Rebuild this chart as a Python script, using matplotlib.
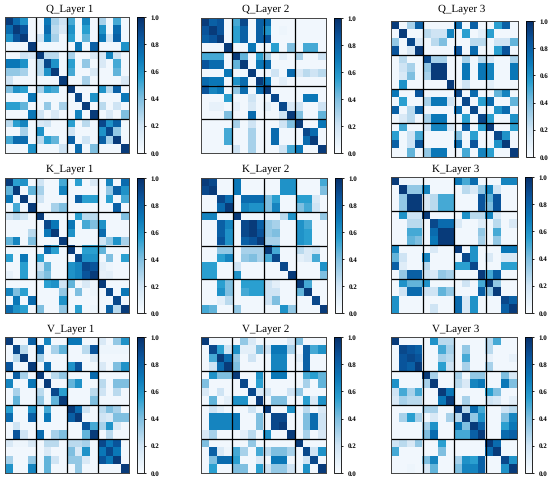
import numpy as np
import matplotlib
matplotlib.use('Agg')
import matplotlib.pyplot as plt
from matplotlib.colors import LinearSegmentedColormap

plt.rcParams['font.family'] = ['Liberation Serif', 'DejaVu Serif']
plt.rcParams['text.hinting'] = 'no_hinting'
plt.rcParams['text.hinting_factor'] = 1

q_layer1 = [
    [95,75,60,3, 3,70,30,20, 50,3,65,3, 30,3,50,3],
    [75,95,85,3, 3,75,25,15, 60,3,55,3, 60,3,75,3],
    [60,85,95,3, 20,65,30,3, 55,3,45,3, 70,20,80,3],
    [3,3,3,95, 3,3,3,3, 3,70,3,80, 3,3,3,60],
    [3,3,20,15, 95,25,25,3, 30,3,3,15, 15,65,20,3],
    [70,70,60,3, 25,90,60,3, 55,3,35,3, 15,3,50,3],
    [35,35,30,3, 25,60,95,3, 50,3,3,15, 3,3,45,3],
    [20,3,3,3, 3,3,3,95, 3,3,30,3, 3,3,3,15],
    [40,60,55,3, 30,55,50,3, 95,3,3,3, 60,25,80,3],
    [3,3,3,70, 3,3,3,3, 3,90,3,60, 3,3,3,70],
    [55,55,45,3, 3,35,3,30, 3,3,95,3, 25,3,20,3],
    [3,3,3,70, 20,3,15,3, 3,65,3,95, 3,15,3,40],
    [25,55,65,3, 15,20,3,3, 55,3,25,3, 90,60,80,3],
    [3,3,30,3, 60,3,3,3, 20,3,3,3, 60,90,35,3],
    [50,75,75,3, 25,55,45,3, 80,3,20,3, 80,30,95,3],
    [3,3,3,60, 3,3,3,20, 3,75,3,40, 3,3,3,95],
]
q_layer2 = [
    [95,80,85,3, 50,90,3,80, 75,3,3,3, 3,3,3,3],
    [85,95,85,3, 55,80,3,80, 60,3,5,3, 3,3,3,3],
    [80,85,95,3, 55,80,3,80, 85,3,3,3, 3,3,3,3],
    [3,3,3,95, 3,3,70,3, 3,55,3,40, 3,50,50,3],
    [50,50,50,3, 95,45,3,55, 30,3,10,3, 30,3,3,20],
    [85,75,75,3, 45,95,3,70, 75,3,3,3, 3,3,3,3],
    [3,3,3,70, 3,3,95,3, 3,20,3,75, 15,25,20,25],
    [75,70,70,3, 60,75,3,95, 70,3,10,3, 3,3,3,3],
    [85,65,70,3, 35,75,3,75, 95,3,3,3, 3,3,3,3],
    [3,3,3,55, 3,3,20,3, 3,90,3,3, 3,70,70,3],
    [3,8,8,3, 8,3,15,3, 10,3,90,15, 20,3,3,20],
    [3,3,3,40, 3,3,75,3, 3,3,20,95, 40,3,3,45],
    [3,3,3,3, 30,3,20,3, 3,3,20,40, 95,3,3,70],
    [3,3,3,50, 3,3,30,3, 3,75,3,3, 3,90,75,3],
    [3,3,3,50, 3,3,30,3, 3,75,3,3, 3,75,95,3],
    [3,3,3,3, 20,3,30,3, 3,3,20,50, 70,3,3,95],
]
q_layer3 = [
    [95,3,30,80, 3,3,3,3, 75,3,80,3, 3,55,80,3],
    [3,95,3,3, 25,20,20,65, 3,55,3,10, 55,3,3,3],
    [35,3,90,15, 3,25,40,3, 3,3,25,25, 3,20,20,45],
    [85,3,15,95, 3,3,3,3, 85,3,75,3, 3,55,85,3],
    [3,25,3,3, 90,30,30,3, 3,30,3,25, 15,3,3,30],
    [3,20,30,3, 35,95,95,3, 3,70,3,70, 65,3,3,70],
    [3,15,40,3, 30,95,95,3, 3,70,3,70, 65,3,3,70],
    [3,60,3,3, 3,3,3,95, 3,20,3,3, 10,3,3,3],
    [70,3,3,85, 3,3,3,3, 90,3,75,3, 3,45,65,3],
    [3,55,3,3, 30,70,70,20, 3,90,3,55, 75,3,3,45],
    [80,3,25,80, 3,3,3,3, 75,3,90,3, 3,60,75,3],
    [3,15,25,3, 30,70,70,3, 3,55,3,90, 55,3,3,60],
    [3,50,3,3, 20,65,65,15, 3,80,3,55, 95,3,3,55],
    [55,3,20,50, 3,3,3,3, 40,3,55,3, 3,90,60,3],
    [80,3,20,85, 3,3,3,3, 75,3,85,3, 3,60,95,3],
    [3,3,45,3, 35,70,70,3, 3,50,3,65, 55,3,3,95],
]
k_layer1 = [
    [95,55,60,3, 20,3,3,50, 3,55,3,15, 3,65,3,75],
    [45,95,3,45, 30,3,3,65, 3,3,3,3, 3,35,80,60],
    [70,3,95,3, 20,3,3,3, 3,80,55,55, 3,55,3,50],
    [3,50,3,95, 3,3,30,40, 3,3,3,3, 3,3,80,3],
    [20,25,20,3, 95,3,3,3, 3,55,25,25, 3,3,3,40],
    [3,3,3,3, 3,90,70,3, 70,3,50,40, 60,3,3,3],
    [3,3,3,25, 3,70,95,3, 60,3,3,3, 75,3,3,3],
    [45,65,3,40, 3,3,3,95, 3,3,3,3, 20,35,60,30],
    [3,3,3,3, 3,75,55,3, 95,3,55,55, 45,3,3,3],
    [55,3,70,3, 55,3,3,3, 3,90,60,60, 3,40,3,55],
    [3,3,55,3, 20,45,3,3, 60,65,90,85, 10,5,3,3],
    [8,3,55,3, 30,40,3,3, 60,65,85,95, 8,10,3,3],
    [3,3,3,3, 3,55,60,20, 45,3,15,5, 95,3,3,3],
    [65,40,55,3, 3,3,3,35, 3,40,3,5, 3,90,3,70],
    [3,70,3,75, 3,3,3,60, 3,3,3,3, 3,3,90,3],
    [75,60,55,3, 40,3,3,35, 3,55,3,5, 3,80,25,95],
]
k_layer2 = [
    [95,90,3,3, 70,3,3,3, 3,3,60,60, 3,3,3,50],
    [90,95,3,3, 70,3,3,3, 3,3,60,60, 3,3,3,40],
    [3,3,90,75, 3,75,75,75, 40,55,3,3, 55,55,15,3],
    [3,3,75,95, 3,65,60,60, 40,65,3,3, 40,50,20,3],
    [65,65,3,3, 95,3,3,3, 3,3,25,60, 3,3,3,35],
    [3,3,80,65, 3,90,95,80, 35,30,3,3, 60,50,3,3],
    [3,3,80,60, 3,90,95,85, 35,40,3,3, 60,55,3,3],
    [3,3,85,60, 3,80,85,95, 30,30,3,3, 60,55,3,3],
    [3,3,35,35, 3,30,30,30, 95,50,3,3, 25,15,20,3],
    [3,3,55,65, 3,35,40,30, 50,90,3,3, 10,15,50,3],
    [55,55,3,3, 20,3,3,3, 3,3,90,3, 3,3,3,60],
    [55,55,3,3, 60,3,3,3, 3,3,3,95, 3,3,3,40],
    [3,3,55,40, 3,55,55,55, 20,10,3,3, 95,50,3,3],
    [3,3,60,40, 3,50,55,55, 20,20,3,3, 45,95,3,3],
    [3,3,10,25, 3,3,3,3, 20,40,3,3, 3,3,90,3],
    [50,45,3,3, 35,3,3,3, 3,3,60,35, 3,3,3,95],
]
k_layer3 = [
    [95,5,5,5, 3,3,3,3, 70,50,75,3, 3,3,65,65],
    [3,95,35,35, 65,3,3,3, 3,25,15,35, 65,20,3,3],
    [3,35,95,95, 15,25,50,50, 3,3,3,85, 45,85,3,3],
    [3,35,95,95, 15,25,50,50, 3,3,3,85, 40,85,3,3],
    [3,60,20,20, 95,3,3,3, 3,60,25,25, 65,15,3,3],
    [3,3,25,25, 3,90,75,75, 15,3,3,12, 3,25,3,15],
    [3,3,50,50, 3,75,95,95, 3,3,3,35, 3,50,3,3],
    [3,3,45,40, 3,70,95,95, 3,3,3,30, 3,35,3,3],
    [65,3,3,3, 3,15,3,3, 95,3,60,3, 3,3,70,70],
    [45,20,3,3, 65,3,3,3, 3,90,60,3, 15,3,15,15],
    [80,12,3,3, 25,3,3,3, 55,55,90,3, 3,3,55,55],
    [3,35,80,80, 20,15,35,30, 3,3,3,95, 50,80,3,3],
    [3,60,45,45, 60,3,3,3, 3,20,3,50, 95,35,3,3],
    [3,20,75,75, 20,20,45,35, 3,3,3,80, 35,95,3,3],
    [60,3,3,3, 3,3,3,3, 75,15,60,3, 3,3,90,80],
    [60,3,3,3, 3,20,3,3, 75,15,60,3, 3,3,80,95],
]
v_layer1 = [
    [95,3,3,80, 3,65,3,3, 70,70,3,3, 15,3,35,60],
    [3,90,25,3, 80,3,30,45, 3,3,25,85, 5,5,5,5],
    [3,25,95,3, 30,3,3,3, 3,3,3,15, 3,3,3,3],
    [85,3,3,95, 3,75,3,3, 60,85,3,3, 15,3,40,60],
    [3,80,30,3, 95,3,25,35, 3,3,3,75, 3,3,3,3],
    [65,3,3,70, 3,95,3,3, 45,60,3,3, 25,3,40,40],
    [3,30,3,3, 25,3,90,55, 3,3,3,25, 20,3,25,3],
    [3,45,3,3, 35,3,45,95, 3,3,3,40, 3,3,3,3],
    [55,3,3,60, 3,50,3,3, 95,75,20,3, 25,40,30,3],
    [75,3,3,80, 3,70,3,3, 80,95,3,3, 20,15,40,40],
    [3,20,3,3, 3,3,3,3, 3,3,85,50, 30,60,15,3],
    [3,85,20,3, 75,3,30,40, 3,3,45,95, 3,25,3,3],
    [15,5,5,15, 3,25,25,3, 25,25,30,3, 90,70,85,3],
    [3,3,3,3, 3,15,3,3, 40,15,60,3, 70,90,70,3],
    [30,3,3,35, 3,45,20,3, 35,35,15,3, 85,70,95,3],
    [60,3,3,65, 3,45,3,3, 3,35,3,3, 3,3,3,95],
]
v_layer2 = [
    [95,3,3,3, 3,35,15,3, 3,3,3,15, 40,3,3,3],
    [3,90,55,20, 60,10,10,40, 20,70,70,30, 3,80,50,60],
    [3,50,95,75, 35,3,20,3, 3,65,65,3, 10,80,3,3],
    [3,20,75,95, 40,3,3,3, 3,65,65,3, 5,80,3,3],
    [3,60,40,40, 95,3,3,60, 3,70,70,3, 3,50,55,45],
    [40,3,3,3, 3,90,3,55, 3,3,3,3, 3,30,3,45],
    [15,3,20,3, 3,3,90,15, 20,3,3,20, 35,3,3,3],
    [3,45,3,10, 60,60,3,95, 3,40,40,3, 3,55,15,60],
    [3,20,10,3, 3,3,20,3, 95,3,3,60, 3,25,3,15],
    [3,65,65,65, 70,3,3,40, 3,90,90,3, 3,40,75,20],
    [3,65,65,65, 70,3,3,40, 3,90,95,3, 3,40,75,20],
    [15,30,3,3, 3,10,25,3, 60,3,3,95, 3,30,3,15],
    [40,3,3,3, 3,3,35,3, 3,3,3,3, 95,3,3,3],
    [3,80,15,5, 50,30,3,50, 25,40,40,30, 3,90,20,60],
    [3,40,75,75, 55,3,3,15, 3,70,70,3, 3,20,90,3],
    [3,55,3,3, 40,40,3,55, 20,35,35,20, 3,60,3,95],
]
v_layer3 = [
    [95,3,3,3, 3,60,25,25, 3,3,3,3, 25,50,3,3],
    [3,90,85,80, 3,3,50,30, 3,35,3,3, 25,3,3,3],
    [3,85,90,85, 3,3,30,25, 3,50,3,3, 8,3,3,8],
    [3,85,80,95, 3,3,55,20, 3,30,3,3, 30,3,3,3],
    [3,3,3,3, 95,30,3,3, 30,3,35,35, 3,3,40,15],
    [60,3,3,3, 30,95,3,3, 25,15,65,70, 3,3,70,40],
    [20,50,30,50, 3,3,95,70, 3,3,3,3, 55,40,3,3],
    [15,30,25,25, 3,3,70,95, 3,30,3,3, 20,15,3,10],
    [3,3,3,3, 30,30,3,3, 95,25,75,50, 3,3,20,25],
    [3,30,55,30, 3,15,3,30, 25,95,35,60, 3,3,40,65],
    [3,3,3,3, 30,60,3,3, 70,40,95,80, 3,3,55,70],
    [3,3,3,3, 40,75,3,3, 50,50,80,95, 3,3,75,80],
    [20,25,15,35, 3,3,55,3, 3,3,3,3, 95,75,3,3],
    [50,3,3,3, 3,3,40,3, 3,3,3,3, 75,95,3,3],
    [3,3,3,3, 40,65,3,3, 30,60,55,80, 3,3,90,60],
    [3,3,5,3, 15,45,3,3, 40,65,65,80, 3,3,60,95],
]

titles = ['Q_Layer 1', 'Q_Layer 2', 'Q_Layer 3',
          'K_Layer 1', 'K_Layer 2', 'K_Layer 3',
          'V_Layer 1', 'V_Layer 2', 'V_Layer 3']
matrices = [q_layer1, q_layer2, q_layer3,
            k_layer1, k_layer2, k_layer3,
            v_layer1, v_layer2, v_layer3]
cbar_ticks = [0.0, 0.2, 0.4, 0.6, 0.8, 1.0]

# left, top, right, bottom of each heatmap in pixels
boxes = [(5, 17, 129, 153), (201, 18, 326, 153), (391, 21, 518, 157),
         (5, 178, 129, 313), (201, 178, 327, 313), (391, 177, 517, 313),
         (5, 337, 129, 473), (201, 337, 326, 473), (391, 337, 517, 473)]
# title centres in pixels, the original ones are not centred on the panels
title_pos = [(70, 9), (266, 9), (462, 9),
             (69.5, 169.5), (266, 169.5), (456, 169.5),
             (70.5, 329), (266, 329), (456, 329)]

W, H = 550, 480
cmap = LinearSegmentedColormap.from_list('blue_white', [
    (0.0, '#f7fbff'), (0.2, '#cfe4f4'), (0.4, '#7fbfe0'), (0.55, '#2a9fd0'),
    (0.7, '#0b78b8'), (0.85, '#0a559c'), (1.0, '#08306b')])

fig = plt.figure(figsize=(W / 100, H / 100), dpi=100)

for title, matrix, (l, t, r, b), (tx, ty) in zip(titles, matrices, boxes, title_pos):
    ax = fig.add_axes([l / W, 1 - b / H, (r - l) / W, (b - t) / H])
    data = np.array(matrix) / 100
    im = ax.imshow(data, cmap=cmap, vmin=0, vmax=1, aspect='auto',
                   interpolation='nearest')
    for pos in [3.5, 7.5, 11.5]:
        ax.axvline(pos, color='black', lw=0.9)
        ax.axhline(pos, color='black', lw=0.9)
    ax.set_xticks([])
    ax.set_yticks([])
    for spine in ax.spines.values():
        spine.set_linewidth(0.7)
        spine.set_color('#444444')
    fig.text(tx / W, 1 - ty / H, title, fontsize=7.8, ha='center', va='center')

    cax = fig.add_axes([(r + 8) / W, 1 - b / H, 7 / W, (b - t) / H])
    cb = fig.colorbar(im, cax=cax)
    cb.set_ticks(cbar_ticks)
    cb.ax.tick_params(labelsize=5, length=1.5, width=0.6, pad=3)
    for label in cb.ax.get_yticklabels():
        label.set_fontweight('bold')
    cb.outline.set_linewidth(0.6)

fig.savefig('out.png', dpi=100)
